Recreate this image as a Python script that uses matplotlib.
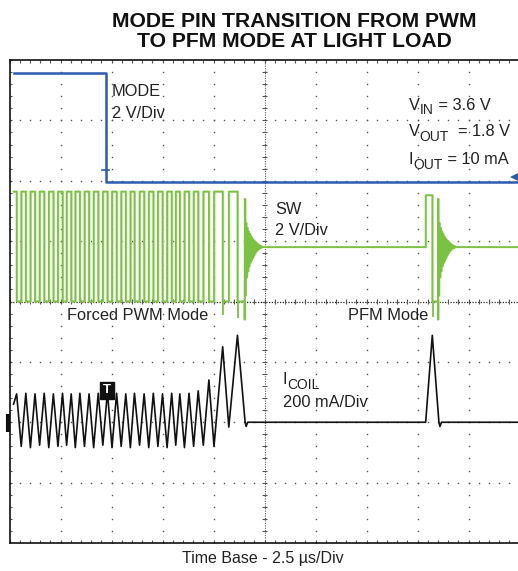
import numpy as np
import matplotlib
matplotlib.use("Agg")
import matplotlib.pyplot as plt

plt.rcParams['font.family'] = ['Liberation Sans', 'DejaVu Sans']

# ---------------- data (in screen divisions: x 0..10, y 0..8) ----------------
# MODE pin (2 V/div)
mode_t = [0.08, 1.89, 1.89, 10.0]
mode_v = [7.78, 7.78, 5.98, 5.98]

# Coil current (200 mA/div), zero at 2.0 div
coil_t = [0.08, 0.14, 0.23, 0.32, 0.41, 0.50, 0.59, 0.68, 0.77, 0.86, 0.95,
          1.04, 1.12, 1.21, 1.29, 1.38, 1.47, 1.56, 1.65, 1.74, 1.83, 1.92,
          2.01, 2.10, 2.19, 2.28, 2.37, 2.45, 2.55, 2.64, 2.73, 2.82, 2.91,
          3.00, 3.09, 3.18, 3.26, 3.34, 3.43, 3.52, 3.61, 3.70, 3.80, 3.91,
          4.01, 4.18, 4.30, 4.47, 4.62, 4.64, 4.67, 8.16, 8.29, 8.42, 8.44,
          8.47, 10.0]
coil_i = [2.30, 2.47, 1.60, 2.48, 1.58, 2.47, 1.62, 2.48, 1.58, 2.47, 1.60,
          2.48, 1.62, 2.47, 1.58, 2.48, 1.60, 2.47, 1.58, 2.48, 1.62, 2.50,
          1.58, 2.48, 1.60, 2.47, 1.58, 2.48, 1.62, 2.47, 1.58, 2.48, 1.60,
          2.47, 1.58, 2.48, 1.62, 2.47, 1.58, 2.48, 1.60, 2.52, 1.62, 2.70,
          1.60, 3.25, 1.92, 3.44, 2.00, 1.93, 2.00, 2.00, 3.44, 2.00, 1.93,
          2.00, 2.00]

# SW node (2 V/div), ground at 4.0 div
sw_hi = 5.82
sw_lo = 4.00
sw_idle = 4.90
sw_start_t = 0.08
sw_fall_t = [0.14, 0.32, 0.50, 0.68, 0.86, 1.04, 1.21, 1.38, 1.56, 1.74,
             1.92, 2.10, 2.28, 2.45, 2.64, 2.82, 3.00, 3.18, 3.34, 3.52,
             3.70, 3.91, 4.18, 4.47]
sw_rise_t = [0.23, 0.41, 0.59, 0.77, 0.95, 1.12, 1.29, 1.47, 1.65, 1.83,
             2.01, 2.19, 2.37, 2.55, 2.73, 2.91, 3.09, 3.26, 3.43, 3.61,
             3.80, 4.01, 4.30]
sw_ring1_start = 4.61
sw_pfm_rise = 8.16
sw_pfm_fall = 8.29
sw_pfm_hi = 5.76
sw_ring2_start = 8.40
ring_dt = [0.000, 0.004, 0.016, 0.028, 0.040, 0.052, 0.064, 0.076, 0.088,
           0.100, 0.112, 0.124, 0.136, 0.148, 0.160, 0.172, 0.184, 0.196,
           0.208, 0.220, 0.232, 0.244, 0.256, 0.268, 0.280, 0.292, 0.304,
           0.316, 0.328, 0.340, 0.360]
ring_v = [3.70, 5.70, 4.10, 5.30, 4.40, 5.22, 4.50, 5.16, 4.58, 5.12, 4.64,
          5.08, 4.68, 5.05, 4.72, 5.02, 4.76, 5.00, 4.80, 4.98, 4.83, 4.96,
          4.85, 4.94, 4.87, 4.93, 4.88, 4.92, 4.89, 4.91, 4.90]
sw_spike_t = [4.19, 4.48, 8.30]
sw_spike_v = [3.77, 3.72, 3.75]

# ---------------- figure ----------------
W, H = 518, 571
fig = plt.figure(figsize=(W / 100, H / 100), dpi=100)
ax = fig.add_axes([9.5 / W, 28 / H, 510 / W, 483 / H])
ax.set_xlim(0, 10)
ax.set_ylim(0, 8)
ax.set_xticks([])
ax.set_yticks([])
for s in ax.spines.values():
    s.set_color('#111111')
    s.set_linewidth(1.2)

gc = '#555555'
xs_minor = np.arange(0, 10.001, 0.2)
ys_minor = np.arange(0, 8.001, 0.2)
for k in range(1, 10):
    if k == 5:
        continue
    ax.plot(np.full(len(ys_minor), k), ys_minor, ls='none', marker='s',
            ms=1.0, mew=0, color=gc, zorder=1)
for j in range(1, 8):
    if j == 4:
        continue
    ax.plot(xs_minor, np.full(len(xs_minor), j), ls='none', marker='s',
            ms=1.0, mew=0, color=gc, zorder=1)
# center cross
ax.plot([5, 5], [0, 8], ls=(0, (1, 1.2)), lw=0.8, color=gc, zorder=1)
ax.plot([0, 10], [4, 4], ls=(0, (1, 1.2)), lw=0.9, color='#222222', zorder=1)
ax.hlines(ys_minor, 4.95, 5.05, color=gc, lw=0.8, zorder=1)
ax.vlines(xs_minor, 3.96, 4.04, color=gc, lw=0.8, zorder=1)
# border ticks
ax.vlines(xs_minor, 7.95, 8.0, color=gc, lw=0.8, zorder=1)
ax.vlines(xs_minor, 0.0, 0.05, color=gc, lw=0.8, zorder=1)
ax.hlines(ys_minor, 0.0, 0.04, color=gc, lw=0.8, zorder=1)

# SW trace
swt = [sw_start_t]
swv = [sw_hi]
for i, f in enumerate(sw_fall_t):
    swt += [f, f]
    swv += [sw_hi, sw_lo]
    if i < len(sw_rise_t):
        r = sw_rise_t[i]
        swt += [r, r]
        swv += [sw_lo, sw_hi]
swt += [sw_ring1_start]
swv += [sw_lo]
swt += [sw_ring1_start + d for d in ring_dt]
swv += ring_v
swt += [sw_pfm_rise, sw_pfm_rise, sw_pfm_fall, sw_pfm_fall, sw_ring2_start]
swv += [sw_idle, sw_pfm_hi, sw_pfm_hi, sw_lo, sw_lo]
swt += [sw_ring2_start + d for d in ring_dt]
swv += ring_v
swt += [10.0]
swv += [sw_idle]

green = '#7cc242'
ax.plot(np.array(swt) + 0.012, swv, color='#b9e09a', lw=1.3, zorder=2)
ax.plot(swt, swv, color=green, lw=1.3, zorder=3)
ax.vlines(sw_spike_t, sw_spike_v, sw_lo, color=green, lw=1.3, zorder=3)

# MODE trace
blue = '#2c5bb0'
ax.plot(mode_t, mode_v, color=blue, lw=1.8, zorder=4)
ax.plot([1.82, 1.96], [6.18, 6.18], color=blue, lw=1.2, zorder=4)
ax.plot([9.9], [6.06], marker='<', ms=6, color=blue, mew=0, zorder=5,
        clip_on=False)

# Coil current
ax.plot(coil_t, coil_i, color='#111111', lw=1.2, zorder=5)
ax.plot([-0.03, -0.03], [1.84, 2.14], color='#111111', lw=3, zorder=5,
        clip_on=False, solid_capstyle='butt')
ax.text(1.91, 2.53, 'T', color='white', fontsize=9.5, fontweight='bold',
        ha='center', va='center', zorder=6,
        bbox=dict(facecolor='#111111', edgecolor='#111111',
                  boxstyle='square,pad=0.2'))

# labels
tc = '#222222'
fs = 11.8
sub_fs = 10.0


def sub_label(x, y, main, sub, rest):
    t1 = ax.text(x, y, main, fontsize=fs, color=tc, va='bottom', ha='left')
    t2 = ax.annotate(sub, xy=(1, 0), xycoords=t1, xytext=(0, -3.2),
                     textcoords='offset points', fontsize=sub_fs, color=tc,
                     va='bottom', ha='left')
    ax.annotate(rest, xy=(1, 0), xycoords=t2, xytext=(0, 3.2),
                textcoords='offset points', fontsize=fs, color=tc,
                va='bottom', ha='left')


ax.text(2.01, 7.47, 'MODE', fontsize=fs, color=tc, va='center', ha='left')
ax.text(2.01, 7.12, '2 V/Div', fontsize=fs, color=tc, va='center', ha='left')
sub_label(7.83, 7.13, 'V', 'IN', ' = 3.6 V')
sub_label(7.83, 6.69, 'V', 'OUT', '  = 1.8 V')
sub_label(7.83, 6.22, 'I', 'OUT', ' = 10 mA')
ax.text(5.21, 5.53, 'SW', fontsize=fs, color=tc, va='center', ha='left')
ax.text(5.21, 5.18, '2 V/Div', fontsize=fs, color=tc, va='center', ha='left')
ax.text(2.51, 3.76, 'Forced PWM Mode', fontsize=fs, color=tc, va='center',
        ha='center')
ax.text(7.42, 3.76, 'PFM Mode', fontsize=fs, color=tc, va='center',
        ha='center')
sub_label(5.36, 2.58, 'I', 'COIL', '')
ax.text(5.36, 2.32, '200 mA/Div', fontsize=fs, color=tc, va='center',
        ha='left')

fig.text(263 / W, 1 - 558 / H, 'Time Base - 2.5 \u00b5s/Div', fontsize=11.5,
         color=tc, ha='center', va='center')
fig.text(294 / W, 1 - 27 / H, 'MODE PIN TRANSITION FROM PWM', fontsize=15.2,
         fontweight='bold', color='#111111', ha='center', va='baseline')
fig.text(294 / W, 1 - 47 / H, 'TO PFM MODE AT LIGHT LOAD', fontsize=15.2,
         fontweight='bold', color='#111111', ha='center', va='baseline')

fig.savefig('out.png', dpi=100, facecolor='white')
